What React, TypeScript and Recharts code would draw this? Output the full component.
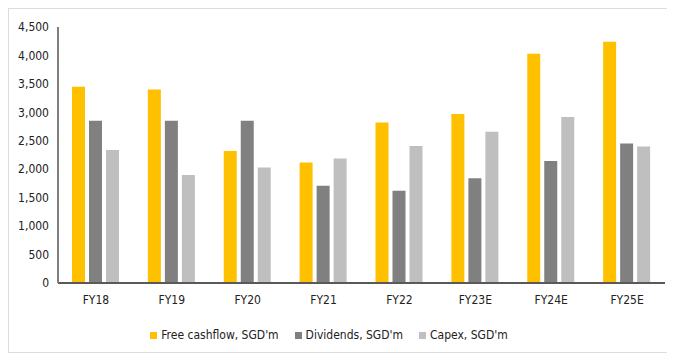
import React from "react";
import { BarChart, Bar, XAxis, YAxis, Legend } from "recharts";

const categories = ["FY18", "FY19", "FY20", "FY21", "FY22", "FY23E", "FY24E", "FY25E"];
const freeCashflow = [3450, 3400, 2320, 2120, 2820, 2970, 4030, 4240];
const dividends = [2850, 2850, 2850, 1710, 1620, 1840, 2145, 2450];
const capex = [2340, 1900, 2030, 2190, 2410, 2660, 2920, 2400];
const yTicks = [0, 500, 1000, 1500, 2000, 2500, 3000, 3500, 4000, 4500];

const data = categories.map((c, i) => ({
  name: c,
  fcf: freeCashflow[i],
  div: dividends[i],
  capex: capex[i],
}));

const FONT = "'DejaVu Sans Condensed', 'DejaVu Sans', sans-serif";

export default function App() {
  return (
    <div
      style={{
        width: 666,
        height: 343,
        borderTop: "1px solid #dcdcdc",
        borderLeft: "1px solid #dcdcdc",
        borderBottom: "1px solid #dcdcdc",
        background: "#fff",
        fontFamily: FONT,
      }}
    >
      <BarChart
        width={666}
        height={343}
        data={data}
        margin={{ top: 18, right: 10, left: 0, bottom: 10 }}
        barGap={4}
        barCategoryGap="19%"
      >
        <XAxis
          dataKey="name"
          height={45}
          tickLine={false}
          axisLine={{ stroke: "#595959", strokeWidth: 2 }}
          tick={{ fill: "#222", fontSize: 12, fontFamily: FONT }}
          tickMargin={6}
          interval={0}
        />
        <YAxis
          width={49}
          domain={[0, 4500]}
          ticks={yTicks}
          interval={0}
          tickLine={false}
          axisLine={{ stroke: "#7f7f7f", strokeWidth: 2 }}
          tick={{ fill: "#222", fontSize: 12, fontFamily: FONT }}
          tickMargin={3}
          tickFormatter={(v: number) => v.toLocaleString("en-US")}
        />
        <Legend
          verticalAlign="bottom"
          iconType="square"
          iconSize={7}
          itemSorter={null as any}
          wrapperStyle={{ fontSize: 12, fontFamily: FONT, color: "#222" }}
          formatter={(value: string) => (
            <span style={{ color: "#222", marginRight: 6 }}>{value}</span>
          )}
        />
        <Bar dataKey="fcf" name="Free cashflow, SGD'm" fill="#FFC000" barSize={13} isAnimationActive={false} />
        <Bar dataKey="div" name="Dividends, SGD'm" fill="#808080" barSize={13} isAnimationActive={false} />
        <Bar dataKey="capex" name="Capex, SGD'm" fill="#BFBFBF" barSize={13} isAnimationActive={false} />
      </BarChart>
    </div>
  );
}
